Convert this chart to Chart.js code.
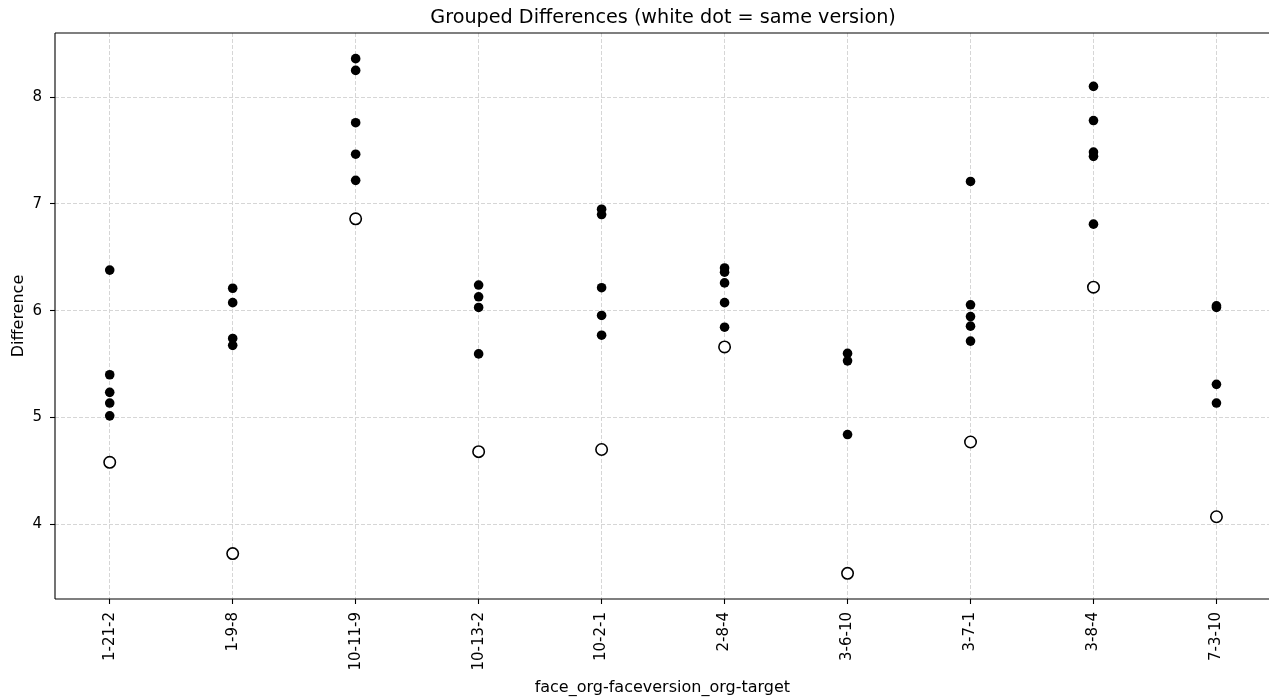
<!DOCTYPE html>
<html>
<head>
<meta charset="utf-8">
<script src="https://cdn.jsdelivr.net/npm/chart.js@4.4.1/dist/chart.umd.min.js"></script>
<style>
html,body{margin:0;padding:0;background:#fff;overflow:hidden;}
#wrap{width:1269px;height:698px;overflow:hidden;position:relative;}
canvas{display:block;position:absolute;left:0;top:0;}
</style>
</head>
<body>
<div id="wrap"><canvas id="c" width="1277" height="698"></canvas></div>
<script>
// ---- data ----
const categories = ['1-21-2','1-9-8','10-11-9','10-13-2','10-2-1','2-8-4','3-6-10','3-7-1','3-8-4','7-3-10'];
const crossVersionValues = [
  [6.38, 5.40, 5.235, 5.135, 5.015],
  [6.21, 6.075, 5.74, 5.675],
  [8.36, 8.25, 7.76, 7.465, 7.22],
  [6.24, 6.13, 6.03, 5.595],
  [6.95, 6.90, 6.215, 5.955, 5.77],
  [6.40, 6.36, 6.26, 6.075, 5.845],
  [5.60, 5.53, 4.84],
  [7.21, 6.055, 5.945, 5.855, 5.715],
  [8.10, 7.78, 7.485, 7.445, 6.81],
  [6.045, 6.03, 5.31, 5.135]
];
const sameVersionValues = [4.58, 3.725, 6.86, 4.68, 4.70, 5.66, 3.54, 4.77, 6.22, 4.07];
const yTickValues = [4, 5, 6, 7, 8];
const titleText = 'Grouped Differences (white dot = same version)';
const xLabel = 'face_org-faceversion_org-target';
const yLabel = 'Difference';

// ---- build datasets ----
const crossPoints = [];
crossVersionValues.forEach((vals, i) => vals.forEach(v => crossPoints.push({x: i, y: v})));
const samePoints = sameVersionValues.map((v, i) => ({x: i, y: v}));

const FONT = 'DejaVu Sans';
Chart.defaults.color = '#000';
Chart.defaults.font.family = FONT;

const framePlugin = {
  id: 'frame',
  afterDraw(chart) {
    const ctx = chart.ctx, a = chart.chartArea;
    ctx.save();
    ctx.strokeStyle = '#000';
    ctx.lineWidth = 1.1;
    ctx.setLineDash([]);
    ctx.beginPath();
    ctx.moveTo(a.left, a.top); ctx.lineTo(a.right, a.top);
    ctx.moveTo(a.left, a.bottom); ctx.lineTo(a.right, a.bottom);
    ctx.moveTo(a.left, a.top); ctx.lineTo(a.left, a.bottom);
    ctx.moveTo(a.right, a.top); ctx.lineTo(a.right, a.bottom);
    ctx.stroke();
    ctx.fillStyle = '#000';
    ctx.font = '19.2px "' + FONT + '"';
    ctx.textAlign = 'center';
    ctx.textBaseline = 'alphabetic';
    const xs = chart.scales.x;
    const cx = (xs.getPixelForValue(-0.45) + xs.getPixelForValue(categories.length - 1 + 0.45)) / 2;
    ctx.fillText(titleText, cx, 23);
    ctx.restore();
  }
};

new Chart(document.getElementById('c'), {
  type: 'scatter',
  data: {
    datasets: [
      { label: 'cross', data: crossPoints, pointRadius: 4.8, pointHoverRadius: 4.8, backgroundColor: '#000', borderColor: '#000', borderWidth: 0 },
      { label: 'same', data: samePoints, pointRadius: 5.7, pointHoverRadius: 5.7, backgroundColor: '#fff', borderColor: '#000', borderWidth: 1.6 }
    ]
  },
  options: {
    responsive: false,
    animation: false,
    devicePixelRatio: 1,
    layout: { padding: { top: 33, right: 0, left: 0, bottom: 0 } },
    plugins: { legend: { display: false }, tooltip: { enabled: false }, title: { display: false } },
    scales: {
      x: {
        type: 'linear',
        min: -0.445,
        max: 9.433,
        afterBuildTicks: s => { s.ticks = categories.map((c, i) => ({ value: i })); },
        afterFit: s => { s.height = 99; s.paddingLeft = 0; s.paddingRight = 0; },
        ticks: {
          callback: (v) => categories[v] ?? '',
          minRotation: 90, maxRotation: 90,
          autoSkip: false,
          padding: 8,
          font: { size: 15, family: FONT },
          color: '#000'
        },
        grid: { color: '#d6d6d6', lineWidth: 1, tickLength: 5, tickColor: '#000', tickWidth: 1.1, tickBorderDash: [] },
        border: { display: false, dash: [4, 2] },
        title: { display: true, text: xLabel, font: { size: 16, family: FONT }, color: '#000', padding: { top: 0, bottom: 1 } }
      },
      y: {
        type: 'linear',
        min: 3.30,
        max: 8.60,
        afterBuildTicks: s => { s.ticks = yTickValues.map(v => ({ value: v })); },
        afterFit: s => { s.width = 55; s.paddingTop = 0; s.paddingBottom = 0; },
        ticks: { padding: 8, font: { size: 15, family: FONT }, color: '#000' },
        grid: { color: '#d6d6d6', lineWidth: 1, tickLength: 5, tickColor: '#000', tickWidth: 1.1, tickBorderDash: [] },
        border: { display: false, dash: [4, 2] },
        title: { display: true, text: yLabel, font: { size: 16, family: FONT }, color: '#000', padding: { top: 9, bottom: 0 } }
      }
    }
  },
  plugins: [framePlugin]
});
</script>
</body>
</html>
